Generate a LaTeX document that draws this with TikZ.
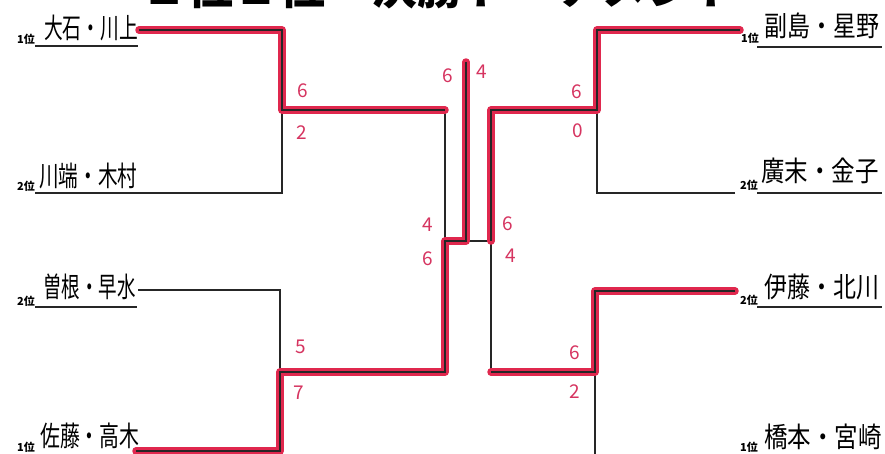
\documentclass[tikz,border=0pt]{standalone}
\usepackage{fontspec}
\usepackage{graphicx}
\newfontfamily\jp{Noto Sans CJK JP}
\definecolor{hlred}{RGB}{224,40,78}
\definecolor{penred}{RGB}{214,52,96}
\tikzset{
  wline/.style={line width=1.1pt, black!85, line join=miter},
  winline/.style={wline, preaction={draw, hlred, line width=7.5pt, line join=round, line cap=round}},
  uline/.style={line width=1.4pt, black!85},
  namebox/.style={font=\jp\fontsize{28}{28}\selectfont, inner sep=0pt, anchor=west},
  rankbox/.style={font=\jp\bfseries\fontsize{11}{11}\selectfont, inner sep=0pt, anchor=west},
  scorebox/.style={font=\jp\fontsize{19}{19}\selectfont, text=penred, inner sep=0pt}
}
\begin{document}
\begin{tikzpicture}[x=1pt,y=-1pt]
\useasboundingbox (0,0) rectangle (885,453);
\clip (0,0) rectangle (885,453);
\fill[white] (0,0) rectangle (885,453);
% title (cut off at the top, as in the reference)
\node[font=\jp\bfseries\fontsize{46}{46}\selectfont, anchor=base, inner sep=0pt] (title) at (440,4) {１位２位　決勝トーナメント};
% ranks
\node[rankbox] (rA) at (17,39) {1位};
\node[rankbox] (rB) at (17,186) {2位};
\node[rankbox] (rC) at (17,301) {2位};
\node[rankbox] (rD) at (17,447) {1位};
\node[rankbox] (rE) at (741,38) {1位};
\node[rankbox] (rF) at (740,185) {2位};
\node[rankbox] (rG) at (740,300) {2位};
\node[rankbox] (rH) at (740,447) {1位};
% names
\node[namebox] (nA) at (44,28) {\scalebox{0.67}[1]{大石・川上}};
\node[namebox] (nB) at (39,176) {\scalebox{0.7}[1]{川端・木村}};
\node[namebox] (nC) at (43,287) {\scalebox{0.66}[1]{曽根・早水}};
\node[namebox] (nD) at (40,436) {\scalebox{0.71}[1]{佐藤・高木}};
\node[namebox] (nE) at (764,26) {\scalebox{0.82}[1]{副島・星野}};
\node[namebox] (nF) at (761,171) {\scalebox{0.84}[1]{廣末・金子}};
\node[namebox] (nG) at (764,287) {\scalebox{0.82}[1]{伊藤・北川}};
\node[namebox] (nH) at (764,437) {\scalebox{0.84}[1]{橋本・宮崎}};
% underlines
\draw[uline] (35,46) -- (138,46);
\draw[uline] (35,307) -- (137,307);
\draw[uline] (757,47) -- (882,47);
\draw[uline] (757,193) -- (882,193);
\draw[uline] (757,307) -- (882,307);
% bracket coordinates
\coordinate (a1) at (139,30);
\coordinate (a2) at (282,30);
\coordinate (q1) at (282,110);
\coordinate (b2) at (282,193);
\coordinate (b0) at (35,193);
\coordinate (s1) at (445,110);
\coordinate (c1) at (138,290);
\coordinate (c2) at (280,290);
\coordinate (q2) at (280,372);
\coordinate (d1) at (136,451);
\coordinate (d2) at (280,451);
\coordinate (s2) at (445,372);
\coordinate (sL) at (445,241);
\coordinate (fL) at (466,241);
\coordinate (ftop) at (466,62);
\coordinate (sR) at (491,241);
\coordinate (s3) at (491,110);
\coordinate (q3) at (597,110);
\coordinate (e2) at (597,30);
\coordinate (e1) at (740,30);
\coordinate (f2) at (597,193);
\coordinate (f1) at (735,193);
\coordinate (s4) at (491,372);
\coordinate (q4) at (595,372);
\coordinate (g2) at (595,291);
\coordinate (g1) at (735,291);
\coordinate (h2) at (595,456);
\coordinate (h1) at (735,456);
% plain lines
\draw[wline] (b0) -- (b2) -- (q1);
\draw[wline] (s1) -- (sL);
\draw[wline] (c1) -- (c2) -- (q2);
\draw[wline] (fL) -- (sR);
\draw[wline] (sR) -- (s4);
\draw[wline] (f1) -- (f2) -- (q3);
\draw[wline] (h1) -- (h2) -- (q4);
% winners' lines
\draw[winline] (a1) -- (a2) -- (q1) -- (s1);
\draw[winline] (d1) -- (d2) -- (q2) -- (s2) -- (sL) -- (fL) -- (ftop);
\draw[winline] (e1) -- (e2) -- (q3) -- (s3) -- (sR);
\draw[winline] (g1) -- (g2) -- (q4) -- (s4);
% scores
\node[scorebox] (p1) at (303,91) {6};
\node[scorebox] (p2) at (302,133) {2};
\node[scorebox] (p3) at (301,347) {5};
\node[scorebox] (p4) at (299,393) {7};
\node[scorebox] (p5) at (448,76) {6};
\node[scorebox] (p6) at (482,72) {4};
\node[scorebox] (p7) at (428,225) {4};
\node[scorebox] (p8) at (428,259) {6};
\node[scorebox] (p9) at (508,224) {6};
\node[scorebox] (p10) at (511,256) {4};
\node[scorebox] (p11) at (577,92) {6};
\node[scorebox] (p12) at (578,131) {0};
\node[scorebox] (p13) at (575,353) {6};
\node[scorebox] (p14) at (575,392) {2};
\end{tikzpicture}
\end{document}
